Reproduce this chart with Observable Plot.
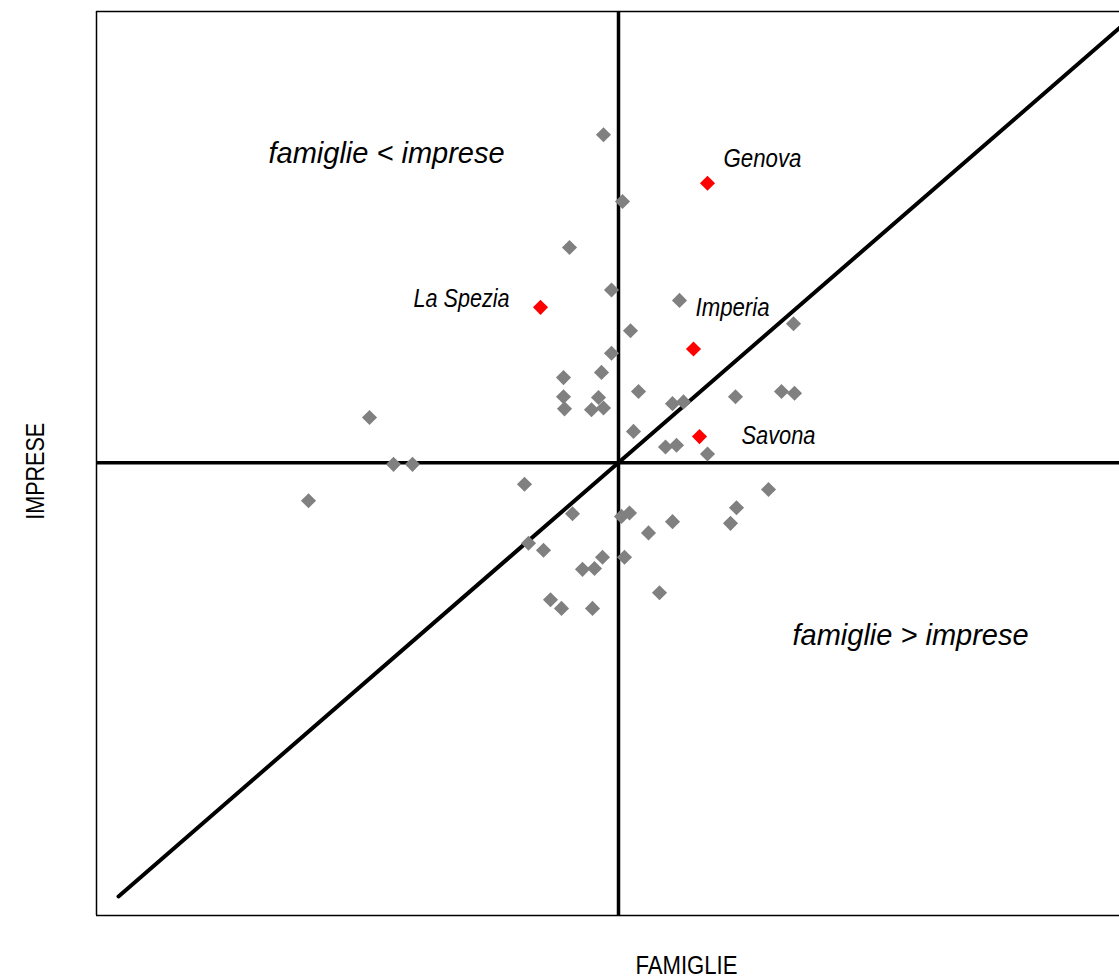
<!DOCTYPE html>
<html>
<head>
<meta charset="utf-8">
<script src="https://cdn.jsdelivr.net/npm/d3@7"></script>
<script src="https://cdn.jsdelivr.net/npm/@observablehq/plot@0.6"></script>
<style>
  html, body { margin: 0; padding: 0; background: #fff; }
  #chart svg { display: block; }
</style>
</head>
<body>
<div id="chart"></div>
<script>
// Gray points: famiglie (x) vs imprese (y)
const grayX = [-0.15, 0.04, -0.49, -0.07, 0.61, 0.12, 1.75, -0.07, -0.17, -0.55, -0.55, -0.54, -0.20, -0.27, -0.15, 0.20, 0.54, 0.65, 1.17, 1.63, 1.76, 0.15, 0.47, 0.58, 0.89, -2.49, -2.25, -2.06, -3.10, -0.94, -0.46, 0.03, 0.11, 0.54, 0.30, 1.18, 1.12, 1.50, -0.90, -0.75, -0.16, 0.06, -0.36, -0.24, -0.68, -0.57, -0.26, 0.41];
const grayY = [3.78, 3.01, 2.48, 1.99, 1.87, 1.52, 1.60, 1.26, 1.04, 0.98, 0.76, 0.62, 0.75, 0.61, 0.63, 0.82, 0.68, 0.70, 0.76, 0.82, 0.80, 0.36, 0.18, 0.20, 0.10, 0.52, -0.02, -0.02, -0.44, -0.25, -0.59, -0.62, -0.58, -0.68, -0.81, -0.52, -0.70, -0.31, -0.93, -1.01, -1.09, -1.09, -1.23, -1.22, -1.58, -1.68, -1.68, -1.50];

// Highlighted provinces (red)
const cities = ["Genova", "La Spezia", "Imperia", "Savona"];
const cityX = [0.89, -0.78, 0.75, 0.81];
const cityY = [3.22, 1.79, 1.31, 0.30];

// Quadrant labels and axis titles
const quadLabels = ["famiglie < imprese", "famiglie > imprese"];
const xTitle = "FAMIGLIE";
const yTitle = "IMPRESE";

const gray = grayX.map((x, i) => ({x, y: grayY[i]}));
const red = cities.map((name, i) => ({name, x: cityX[i], y: cityY[i]}));

// label anchor positions (data units)
const labelsStart = [
  {name: cities[0], x: 1.05, y: 3.41},
  {name: cities[2], x: 0.77, y: 1.69},
  {name: cities[3], x: 1.23, y: 0.22}
];
const labelsEnd = [
  {name: cities[1], x: -1.09, y: 1.79}
];
const quadPos = [
  {text: quadLabels[0], x: -3.50, y: 3.45},
  {text: quadLabels[1], x: 1.74, y: -2.10}
];

// condensed widths (px) to imitate the narrow typeface of the original
const textWidths = {
  "Genova": 78, "La Spezia": 96, "Imperia": 74, "Savona": 74,
  "FAMIGLIE": 102, "IMPRESE": 97
};

const sans = "'Liberation Sans', Arial, sans-serif";

const xMin = -5.22, xMax = 5.01, yMin = -5.22, yMax = 5.2;

const chart = Plot.plot({
  width: 1119,
  height: 980,
  marginLeft: 96,
  marginRight: 0,
  marginTop: 11,
  marginBottom: 65,
  style: {background: "#fff", overflow: "visible"},
  x: {domain: [xMin, xMax], axis: null},
  y: {domain: [yMin, yMax], axis: null},
  marks: [
    // frame: left, top, bottom
    Plot.ruleX([xMin], {stroke: "#000", strokeWidth: 1.5}),
    Plot.ruleY([yMin, yMax], {stroke: "#000", strokeWidth: 1.5}),
    // axes through origin
    Plot.ruleX([0], {stroke: "#000", strokeWidth: 3.5}),
    Plot.ruleY([0], {stroke: "#000", strokeWidth: 3.5}),
    // bisector
    Plot.line([{x: -5.0, y: -5.0}, {x: 5.03, y: 5.03}], {x: "x", y: "y", stroke: "#000", strokeWidth: 4, strokeLinecap: "round"}),
    // points
    Plot.dot(gray, {x: "x", y: "y", symbol: "diamond2", r: 6.8, fill: "#808080", stroke: "none"}),
    Plot.dot(red, {x: "x", y: "y", symbol: "diamond2", r: 6.8, fill: "#ff0000", stroke: "none"}),
    // city labels
    Plot.text(labelsStart, {x: "x", y: "y", text: "name", textAnchor: "start", lineAnchor: "bottom",
      fontFamily: sans, fontStyle: "italic", fontSize: 25, fill: "#000"}),
    Plot.text(labelsEnd, {x: "x", y: "y", text: "name", textAnchor: "end", lineAnchor: "bottom",
      fontFamily: sans, fontStyle: "italic", fontSize: 25, fill: "#000"}),
    // quadrant labels
    Plot.text(quadPos, {x: "x", y: "y", text: "text", textAnchor: "start", lineAnchor: "bottom",
      fontFamily: sans, fontStyle: "italic", fontSize: 29, fill: "#000"}),
    // axis titles
    Plot.text([xTitle], {x: () => 0.68, y: () => -5.89, lineAnchor: "bottom",
      fontFamily: sans, fontSize: 26, fill: "#000"}),
    Plot.text([yTitle], {x: () => -5.75, y: () => -0.10, rotate: -90, lineAnchor: "bottom",
      fontFamily: sans, fontSize: 26, fill: "#000"})
  ]
});

d3.select(chart).selectAll("text").each(function () {
  const w = textWidths[this.textContent];
  if (w) {
    this.setAttribute("textLength", w);
    this.setAttribute("lengthAdjust", "spacingAndGlyphs");
  }
});

document.getElementById("chart").appendChild(chart);
</script>
</body>
</html>
